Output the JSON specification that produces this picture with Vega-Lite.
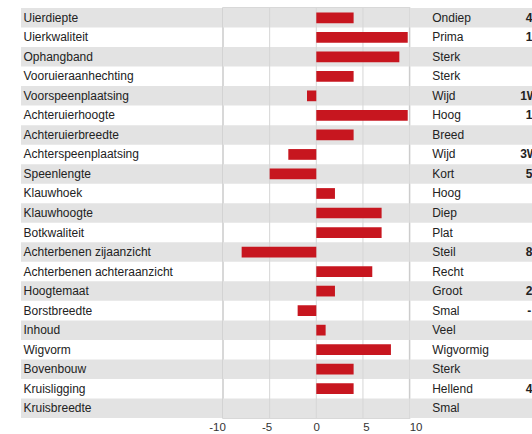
{
  "$schema": "https://vega.github.io/schema/vega-lite/v6.json",
  "padding": {"left": 21, "top": 6, "right": 0, "bottom": 0},
  "bounds": "flush",
  "spacing": 0,
  "config": {"font": "Liberation Sans", "view": {"stroke": null}},
  "datasets": {
    "traits": [
      {"trait": "Uierdiepte", "right": "Ondiep", "value": 4, "num": "4"},
      {"trait": "Uierkwaliteit", "right": "Prima", "value": 9.8, "num": "1"},
      {"trait": "Ophangband", "right": "Sterk", "value": 8.9, "num": ""},
      {"trait": "Vooruieraanhechting", "right": "Sterk", "value": 4, "num": ""},
      {"trait": "Voorspeenplaatsing", "right": "Wijd", "value": -1, "num": "1W"},
      {"trait": "Achteruierhoogte", "right": "Hoog", "value": 9.8, "num": "1"},
      {"trait": "Achteruierbreedte", "right": "Breed", "value": 4, "num": ""},
      {"trait": "Achterspeenplaatsing", "right": "Wijd", "value": -3, "num": "3W"},
      {"trait": "Speenlengte", "right": "Kort", "value": -5, "num": "5"},
      {"trait": "Klauwhoek", "right": "Hoog", "value": 2, "num": ""},
      {"trait": "Klauwhoogte", "right": "Diep", "value": 7, "num": ""},
      {"trait": "Botkwaliteit", "right": "Plat", "value": 7, "num": ""},
      {"trait": "Achterbenen zijaanzicht", "right": "Steil", "value": -8, "num": "8"},
      {"trait": "Achterbenen achteraanzicht", "right": "Recht", "value": 6, "num": ""},
      {"trait": "Hoogtemaat", "right": "Groot", "value": 2, "num": "2"},
      {"trait": "Borstbreedte", "right": "Smal", "value": -2, "num": "-"},
      {"trait": "Inhoud", "right": "Veel", "value": 1, "num": ""},
      {"trait": "Wigvorm", "right": "Wigvormig", "value": 8, "num": ""},
      {"trait": "Bovenbouw", "right": "Sterk", "value": 4, "num": ""},
      {"trait": "Kruisligging", "right": "Hellend", "value": 4, "num": "4"},
      {"trait": "Kruisbreedte", "right": "Smal", "value": 0, "num": ""}
    ]
  },
  "hconcat": [
    {
      "width": 201.7,
      "height": 410,
      "data": {"name": "traits"},
      "transform": [
        {"window": [{"op": "row_number", "as": "rn"}]},
        {"filter": "datum.rn % 2 == 1"}
      ],
      "mark": {"type": "rect", "color": "#e3e3e3"},
      "encoding": {
        "y": {
          "field": "trait",
          "type": "nominal",
          "scale": {"domain": ["Uierdiepte","Uierkwaliteit","Ophangband","Vooruieraanhechting","Voorspeenplaatsing","Achteruierhoogte","Achteruierbreedte","Achterspeenplaatsing","Speenlengte","Klauwhoek","Klauwhoogte","Botkwaliteit","Achterbenen zijaanzicht","Achterbenen achteraanzicht","Hoogtemaat","Borstbreedte","Inhoud","Wigvorm","Bovenbouw","Kruisligging","Kruisbreedte"], "paddingInner": 0, "paddingOuter": 0},
          "axis": {"title": null, "orient": "left", "labelAlign": "left", "labelBaseline": "middle", "labelPadding": -2, "ticks": false, "tickSize": 0, "domain": false, "zindex": 1, "labelFontSize": 12, "labelFont": "Liberation Sans", "labelColor": "#222222", "labelLimit": 200}
        }
      }
    },
    {
      "width": 186.6,
      "height": 410,
      "view": {"stroke": "#cccccc", "strokeWidth": 1.5},
      "data": {"name": "traits"},
      "encoding": {
        "y": {
          "field": "trait",
          "type": "nominal",
          "scale": {"domain": ["Uierdiepte","Uierkwaliteit","Ophangband","Vooruieraanhechting","Voorspeenplaatsing","Achteruierhoogte","Achteruierbreedte","Achterspeenplaatsing","Speenlengte","Klauwhoek","Klauwhoogte","Botkwaliteit","Achterbenen zijaanzicht","Achterbenen achteraanzicht","Hoogtemaat","Borstbreedte","Inhoud","Wigvorm","Bovenbouw","Kruisligging","Kruisbreedte"], "paddingInner": 0, "paddingOuter": 0},
          "axis": null
        }
      },
      "layer": [
        {
          "transform": [
            {"window": [{"op": "row_number", "as": "rn"}]},
            {"filter": "datum.rn % 2 == 1"}
          ],
          "mark": {"type": "rect", "color": "#e3e3e3"}
        },
        {
          "data": {"values": [{"g": -5}, {"g": 0}, {"g": 5}]},
          "mark": {"type": "rule", "color": "#d6d6d6", "strokeWidth": 1},
          "encoding": {
            "y": null,
            "x": {"field": "g", "type": "quantitative", "scale": {"domain": [-10, 10], "nice": false}}
          }
        },
        {
          "mark": {"type": "bar", "color": "#c7161f", "height": {"band": 0.55}},
          "encoding": {
            "x": {
              "field": "value",
              "type": "quantitative",
              "scale": {"domain": [-10, 10], "nice": false},
              "axis": {
                "title": null,
                "values": [-10, -5, 0, 5, 10],
                "labelExpr": "'' + datum.value",
                "grid": false,
                "domain": false,
                "ticks": false,
                "tickSize": 0,
                "labelPadding": 3,
                "labelFontSize": 11.5,
                "labelFont": "Liberation Sans",
                "labelColor": "#333333",
                "labelFlush": false,
                "labelOverlap": false,
                "labelOffset": {
                  "condition": [
                    {"test": "datum.value == -10", "value": -6},
                    {"test": "datum.value == -5", "value": -3},
                    {"test": "datum.value == 5", "value": 3},
                    {"test": "datum.value == 10", "value": 6}
                  ],
                  "value": 0
                }
              }
            }
          }
        }
      ]
    },
    {
      "width": 122.7,
      "height": 410,
      "data": {"name": "traits"},
      "encoding": {
        "y": {
          "field": "trait",
          "type": "nominal",
          "scale": {"domain": ["Uierdiepte","Uierkwaliteit","Ophangband","Vooruieraanhechting","Voorspeenplaatsing","Achteruierhoogte","Achteruierbreedte","Achterspeenplaatsing","Speenlengte","Klauwhoek","Klauwhoogte","Botkwaliteit","Achterbenen zijaanzicht","Achterbenen achteraanzicht","Hoogtemaat","Borstbreedte","Inhoud","Wigvorm","Bovenbouw","Kruisligging","Kruisbreedte"], "paddingInner": 0, "paddingOuter": 0},
          "axis": null
        }
      },
      "layer": [
        {
          "transform": [
            {"window": [{"op": "row_number", "as": "rn"}]},
            {"filter": "datum.rn % 2 == 1"}
          ],
          "mark": {"type": "rect", "color": "#e3e3e3"}
        },
        {
          "mark": {"type": "text", "align": "left", "baseline": "middle", "fontSize": 12, "font": "Liberation Sans", "color": "#222222"},
          "encoding": {
            "x": {"datum": 22.2, "type": "quantitative", "scale": {"domain": [0, 122.7], "nice": false, "zero": false}, "axis": null},
            "text": {"field": "right"}
          }
        },
        {
          "mark": {"type": "text", "align": "center", "baseline": "middle", "fontSize": 12, "fontWeight": "bold", "font": "Liberation Sans", "color": "#222222", "clip": true},
          "encoding": {
            "x": {"datum": 119.2, "type": "quantitative"},
            "text": {"field": "num"}
          }
        }
      ]
    }
  ]
}
